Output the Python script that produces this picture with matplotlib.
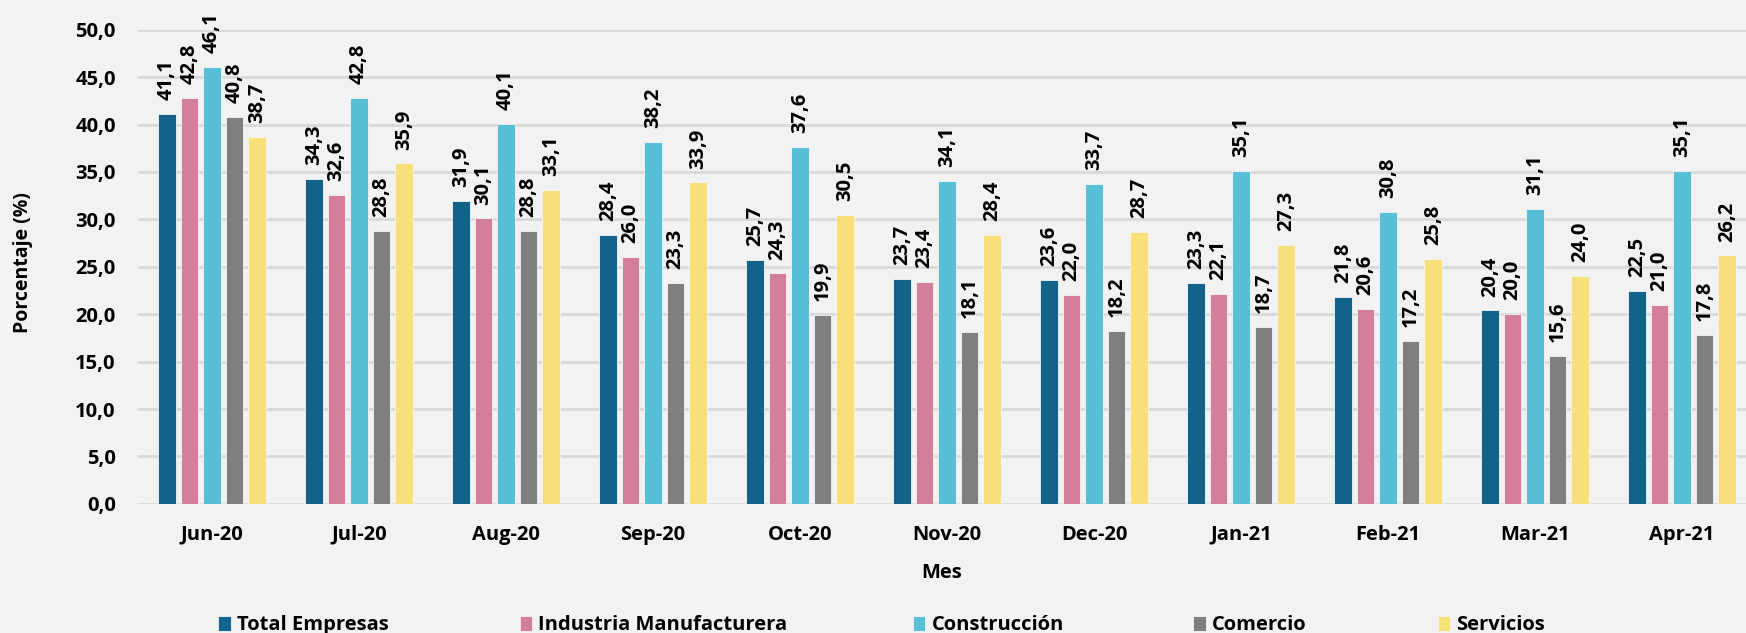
import matplotlib.pyplot as plt
import numpy as np

meses = ['Jun-20', 'Jul-20', 'Aug-20', 'Sep-20', 'Oct-20', 'Nov-20',
         'Dec-20', 'Jan-21', 'Feb-21', 'Mar-21', 'Apr-21']
total_empresas = [41.1, 34.3, 31.9, 28.4, 25.7, 23.7, 23.6, 23.3, 21.8, 20.4, 22.5]
industria = [42.8, 32.6, 30.1, 26.0, 24.3, 23.4, 22.0, 22.1, 20.6, 20.0, 21.0]
construccion = [46.1, 42.8, 40.1, 38.2, 37.6, 34.1, 33.7, 35.1, 30.8, 31.1, 35.1]
comercio = [40.8, 28.8, 28.8, 23.3, 19.9, 18.1, 18.2, 18.7, 17.2, 15.6, 17.8]
servicios = [38.7, 35.9, 33.1, 33.9, 30.5, 28.4, 28.7, 27.3, 25.8, 24.0, 26.2]

series = [
    ('Total Empresas', total_empresas, '#12628a'),
    ('Industria Manufacturera', industria, '#d47f99'),
    ('Construcción', construccion, '#57bfd6'),
    ('Comercio', comercio, '#7f7f7f'),
    ('Servicios', servicios, '#f7e07a'),
]

plt.rcParams['font.family'] = ['Open Sans', 'DejaVu Sans']
plt.rcParams['font.weight'] = 'bold'

bg = '#f2f2f2'
fig = plt.figure(figsize=(17.46, 6.33), dpi=100, facecolor=bg)
ax = fig.add_axes([0.079, 0.204, 0.921, 0.749], facecolor=bg)

x = np.arange(len(meses))
w = 0.119
step = 0.153
handles = []
for i, (name, vals, col) in enumerate(series):
    pos = x + (i - 2) * step
    bars = ax.bar(pos, vals, width=w, color=col, edgecolor='#f4f4f4',
                  linewidth=0.6, zorder=3, label=name)
    handles.append(bars)
    for xp, v in zip(pos, vals):
        ax.annotate(f'{v:.1f}'.replace('.', ','), (xp, v), xytext=(0, 10),
                    textcoords='offset points', rotation=90, ha='center',
                    va='bottom', fontsize=14.5, fontweight='bold',
                    annotation_clip=False)

ax.set_ylim(0, 50)
ax.set_xlim(-0.503, 10.435)
ax.set_yticks(np.arange(0, 51, 5))
ax.set_yticklabels([f'{t:.1f}'.replace('.', ',') for t in np.arange(0, 51, 5)])
ax.set_xticks(x)
ax.set_xticklabels(meses)
ax.tick_params(axis='both', length=0, labelsize=14.5)
ax.tick_params(axis='x', pad=15)
ax.tick_params(axis='y', pad=16)
ax.grid(axis='y', color='#d9d9d9', lw=2, zorder=0)
for s in ax.spines.values():
    s.set_visible(False)
ax.set_xlabel('Mes', fontsize=14.5, fontweight='bold', labelpad=13)
ax.set_ylabel('Porcentaje (%)', fontsize=14, fontweight='bold')
ax.yaxis.set_label_coords(-0.065, 0.51)

legend_x = [0.1249, 0.2978, 0.5229, 0.6833, 0.8236]
for h, lx in zip(handles, legend_x):
    fig.legend([h], [h.get_label()], loc='center left', bbox_to_anchor=(lx, 0.012),
               frameon=False, fontsize=14.5, handlelength=0.62, handleheight=0.75,
               handletextpad=0.3, borderpad=0, borderaxespad=0)

fig.savefig('out.png', dpi=100, facecolor=bg)
